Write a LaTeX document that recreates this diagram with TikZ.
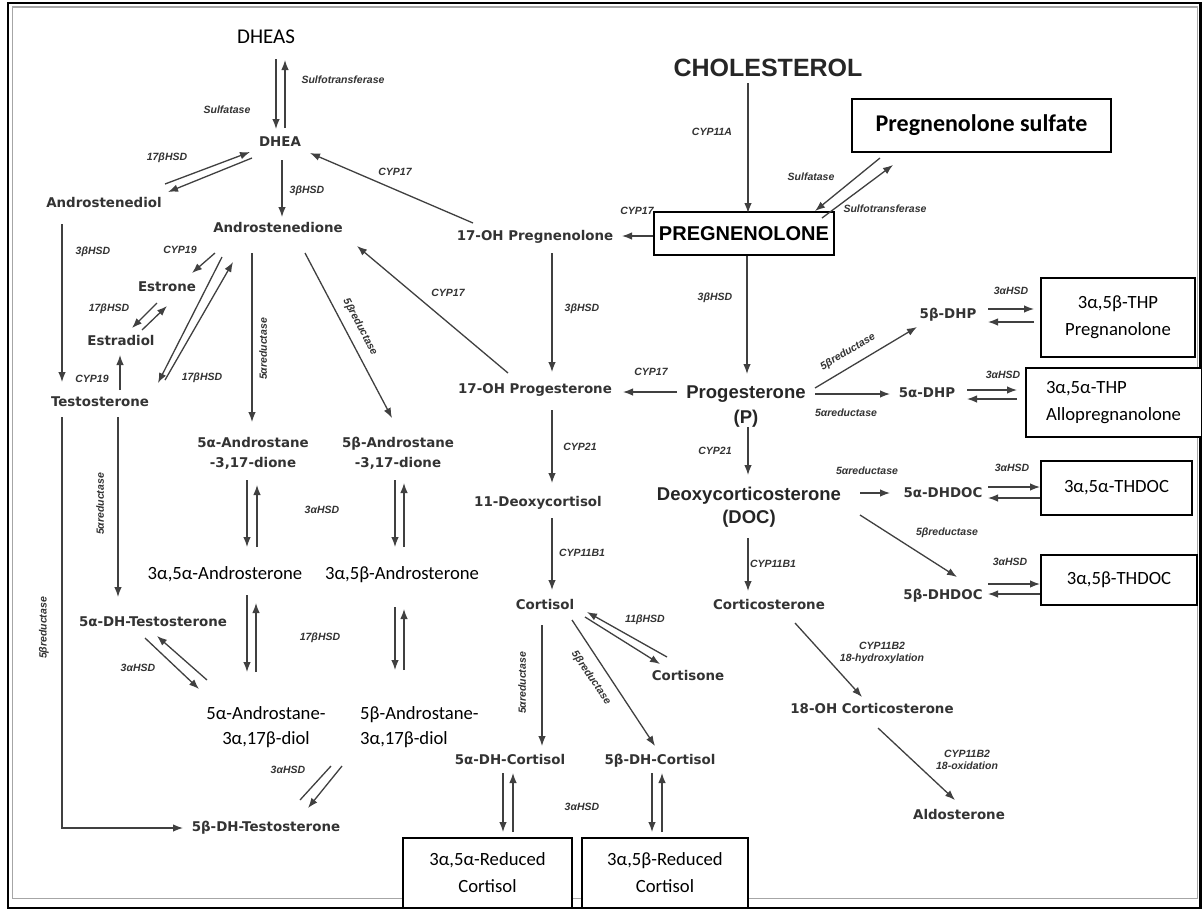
\documentclass[tikz,border=0pt]{standalone}
\usepackage{fontspec}
\usetikzlibrary{arrows.meta,calc}
\newfontfamily\dejavu{DejaVu Sans}
\newfontfamily\lib{Liberation Sans}
\newfontfamily\carl{Carlito}
\tikzset{
  cmp/.style={font=\dejavu\bfseries\fontsize{13.4}{20}\selectfont, text=black!80, inner sep=0pt, align=center},
  cmp1/.style={cmp, text height=9.8pt, text depth=0pt},
  big/.style={font=\lib\bfseries\fontsize{18.5}{25}\selectfont, text=black!85, inner sep=0pt, align=center},
  enz/.style={font=\lib\bfseries\itshape\fontsize{10.5}{12.5}\selectfont, text=black!80, inner sep=0pt, align=center},
  cal/.style={font=\carl\fontsize{18.67}{25}\selectfont, inner sep=0pt, align=center},
  cal1/.style={cal, text height=12pt, text depth=0pt},
  box/.style={draw, fill=white, line width=1.3pt, inner sep=0pt, align=center, font=\carl\fontsize{18.67}{27}\selectfont},
  arr/.style={draw=black!75, line width=1.3pt, -{Latex[length=10pt,width=7.5pt]}},
  ln/.style={draw=black!75, line width=1.3pt},
}
\begin{document}
\begin{tikzpicture}[x=1pt,y=-1pt]
\useasboundingbox (0,0) rectangle (1202,911);
\fill[white] (0,0) rectangle (1202,911);
\draw[black, line width=2.2pt] (8,3) rectangle (1200.5,908);
\draw[gray!70, line width=1.3pt] (12.5,7) rectangle (1197.5,898.5);

% ---------- compounds ----------
\node[cal1, font=\carl\fontsize{21}{25}\selectfont] (dheas) at (266,37) {DHEAS};
\node[cmp1] (dhea) at (280,142) {DHEA};
\node[cmp1] (adiol) at (104,203) {Androstenediol};
\node[cmp1] (adione) at (278,228) {Androstenedione};
\node[cmp1] (estrone) at (167,287) {Estrone};
\node[cmp1] (estradiol) at (121,341) {Estradiol};
\node[cmp1] (testo) at (100,402) {Testosterone};
\node[cmp] (a5dione) at (253,453) {5α-Androstane\\-3,17-dione};
\node[cmp] (b5dione) at (398,453) {5β-Androstane\\-3,17-dione};
\node[cal1] (a5ster) at (225,573) {3α,5α-Androsterone};
\node[cal1] (b5ster) at (402,573) {3α,5β-Androsterone};
\node[cmp1] (dht) at (153,622) {5α-DH-Testosterone};
\node[cal] (a5diol) at (266,727) {5α-Androstane-\\3α,17β-diol};
\node[cal, align=left, anchor=west] (b5diol) at (360,727) {5β-Androstane-\\3α,17β-diol};
\node[cmp1] (b5dht) at (266,827) {5β-DH-Testosterone};

\node[font=\lib\bfseries\fontsize{25}{30}\selectfont, text=black!85, inner sep=0pt, text height=18pt, text depth=0pt] (chol) at (768,67) {CHOLESTEROL};
\node[draw, fill=white, line width=1.8pt, minimum width=180pt, minimum height=43pt, inner sep=0pt, font=\lib\bfseries\fontsize{20}{24}\selectfont] (preg) at (744,233.5) {PREGNENOLONE};
\node[draw, fill=white, line width=1.8pt, minimum width=259pt, minimum height=53pt, inner sep=0pt, font=\carl\bfseries\fontsize{24}{28}\selectfont] (pregs) at (981.5,125.5) {Pregnenolone sulfate};

\node[cmp1] (opreg) at (535,236) {17-OH Pregnenolone};
\node[cmp1] (oprog) at (535,389) {17-OH Progesterone};
\node[big] (prog) at (746,406.5) {Progesterone\\(P)};
\node[cmp1] (deoxyc) at (538,502) {11-Deoxycortisol};
\node[big, font=\lib\bfseries\fontsize{18.5}{23}\selectfont] (doc) at (749,507.5) {Deoxycorticosterone\\(DOC)};
\node[cmp1] (cortisol) at (545,605) {Cortisol};
\node[cmp1] (corticost) at (769,605) {Corticosterone};
\node[cmp1] (cortisone) at (688,676) {Cortisone};
\node[cmp1] (a5cort) at (510,760) {5α-DH-Cortisol};
\node[cmp1] (b5cort) at (660,760) {5β-DH-Cortisol};
\node[box, minimum width=169pt, minimum height=70pt] (a5rc) at (487.5,873) {3α,5α-Reduced\\Cortisol};
\node[box, minimum width=166pt, minimum height=70pt] (b5rc) at (665,873) {3α,5β-Reduced\\Cortisol};
\node[cmp1] (ohcort) at (872,709) {18-OH Corticosterone};
\node[cmp1] (aldo) at (959,815) {Aldosterone};
\node[cmp1] (b5dhp) at (948,314) {5β-DHP};
\node[cmp1] (a5dhp) at (927,393) {5α-DHP};
\node[box, minimum width=154pt, minimum height=79pt] (thp) at (1118,317.5) {3α,5β-THP\\Pregnanolone};
\node[box, minimum height=69pt, text width=136pt, inner xsep=20pt, align=left] (allo) at (1114,402.5) {3α,5α-THP\\Allopregnanolone};
\node[cmp1] (a5dhdoc) at (943,493) {5α-DHDOC};
\node[cmp1] (b5dhdoc) at (943,595) {5β-DHDOC};
\node[box, minimum width=151pt, minimum height=54pt] (athdoc) at (1116.5,488) {3α,5α-THDOC};
\node[box, minimum width=156pt, minimum height=50pt] (bthdoc) at (1119,580) {3α,5β-THDOC};

% ---------- enzyme labels ----------
\node[enz] (e1) at (343,80) {Sulfotransferase};
\node[enz] (e2) at (227,110) {Sulfatase};
\node[enz] (e3) at (167,158) {17βHSD};
\node[enz] (e4) at (307,191) {3βHSD};
\node[enz] (e5) at (395,172) {CYP17};
\node[enz] (e6) at (93,252) {3βHSD};
\node[enz] (e7) at (180,250) {CYP19};
\node[enz] (e8) at (109,309) {17βHSD};
\node[enz] (e9) at (92,379) {CYP19};
\node[enz] (e10) at (202,378) {17βHSD};
\node[enz, rotate=90] (e11) at (263,349) {5αreductase};
\node[enz, rotate=-62] (e12) at (360,327) {5βreductase};
\node[enz] (e13) at (322,510) {3αHSD};
\node[enz, rotate=90] (e14) at (100,504) {5αreductase};
\node[enz] (e15) at (320,638) {17βHSD};
\node[enz] (e16) at (138,668) {3αHSD};
\node[enz, rotate=90] (e17) at (44,628) {5βreductase};
\node[enz] (e18) at (288,770) {3αHSD};
\node[enz] (e19) at (712,132) {CYP11A};
\node[enz] (e20) at (811,177) {Sulfatase};
\node[enz] (e21) at (885,209) {Sulfotransferase};
\node[enz] (e22) at (637,211) {CYP17};
\node[enz] (e23) at (582,309) {3βHSD};
\node[enz] (e24) at (715,298) {3βHSD};
\node[enz] (e25) at (651,372) {CYP17};
\node[enz] (e26) at (448,293) {CYP17};
\node[enz] (e27) at (580,447) {CYP21};
\node[enz] (e28) at (715,451) {CYP21};
\node[enz] (e29) at (582,553) {CYP11B1};
\node[enz] (e30) at (773,564) {CYP11B1};
\node[enz] (e31) at (645,620) {11βHSD};
\node[enz, rotate=90] (e32) at (522,683) {5αreductase};
\node[enz, rotate=-56] (e33) at (591,678) {5βreductase};
\node[enz] (e34) at (582,807) {3αHSD};
\node[enz] (e35) at (882,653) {CYP11B2\\18-hydroxylation};
\node[enz] (e36) at (967,760) {CYP11B2\\18-oxidation};
\node[enz, rotate=31] (e37) at (848,352) {5βreductase};
\node[enz] (e38) at (846,413) {5αreductase};
\node[enz] (e39) at (1011,291) {3αHSD};
\node[enz] (e40) at (1003,375) {3αHSD};
\node[enz] (e41) at (867,471) {5αreductase};
\node[enz] (e42) at (1012,468) {3αHSD};
\node[enz] (e43) at (947,533) {5βreductase};
\node[enz] (e44) at (1010,562) {3αHSD};

% ---------- connectors ----------
\draw[arr] ($(dheas)+(10,22)$) -- ($(dhea)+(-4,-13)$);
\draw[arr] ($(dhea)+(5,-14)$) -- ($(dheas)+(19,23)$);
\draw[arr] ($(adiol)+(61,-19)$) -- ($(dhea)+(-30,10)$);
\draw[arr] ($(dhea)+(-28,16)$) -- ($(adiol)+(64,-11)$);
\draw[arr] ($(dhea)+(2,18)$) -- ($(adione)+(4,-11)$);
\draw[arr] ($(opreg)+(-62,-13)$) -- ($(dhea)+(30,11)$);
\draw[arr] ($(chol)+(-20,16)$) -- ($(preg)+(4,-20.5)$);
\draw[arr] ($(pregs)+(-101.5,32.5)$) -- ($(preg)+(71,-22.5)$);
\draw[arr] ($(preg)+(78,-15.5)$) -- ($(pregs)+(-88.5,39.5)$);
\draw[arr] ($(preg)+(-91,2.5)$) -- ($(opreg)+(87,0)$);
\draw[arr] ($(preg)+(3,22.5)$) -- ($(prog)+(1,-32.5)$);
\draw[arr] ($(opreg)+(17,17)$) -- ($(oprog)+(17,-17)$);
\draw[arr] ($(prog)+(-69,-14.5)$) -- ($(oprog)+(88,3)$);
\draw[arr] ($(oprog)+(-27,-16)$) -- ($(adione)+(79,18)$);
\draw[arr] ($(oprog)+(17,21)$) -- ($(deoxyc)+(14,-19)$);
\draw[arr] ($(deoxyc)+(14,16)$) -- ($(cortisol)+(7,-15)$);
\draw[arr] ($(prog)+(2,20.5)$) -- ($(doc)+(-1,-32.5)$);
\draw[arr] ($(doc)+(-1,30.5)$) -- ($(corticost)+(-21,-14)$);
\draw[arr] ($(corticost)+(26,18)$) -- ($(ohcort)+(-10,-12)$);
\draw[arr] ($(ohcort)+(6,19)$) -- ($(aldo)+(-4,-15)$);
\draw[arr] ($(cortisol)+(-3,20)$) -- ($(a5cort)+(32,-14)$);
\draw[arr] ($(cortisol)+(27,15)$) -- ($(b5cort)+(-5,-14)$);
\draw[arr] ($(cortisol)+(40,12)$) -- ($(cortisone)+(-28,-12)$);
\draw[arr] ($(cortisone)+(-21,-19)$) -- ($(cortisol)+(42,7)$);
\draw[arr] ($(a5cort)+(-7,13)$) -- ($(a5rc)+(15.5,-41)$);
\draw[arr] ($(a5rc)+(25.5,-41)$) -- ($(a5cort)+(3,13)$);
\draw[arr] ($(b5cort)+(-8,13)$) -- ($(b5rc)+(-13,-41)$);
\draw[arr] ($(b5rc)+(-3,-41)$) -- ($(b5cort)+(2,13)$);
\draw[arr] ($(prog)+(69,-18.5)$) -- ($(b5dhp)+(-31,13)$);
\draw[arr] ($(prog)+(69,-12.5)$) -- ($(a5dhp)+(-37,1)$);
\draw[arr] ($(b5dhp)+(40,-5)$) -- ($(thp)+(-84,-8.5)$);
\draw[arr] ($(thp)+(-84,4.5)$) -- ($(b5dhp)+(40,8)$);
\draw[arr] ($(a5dhp)+(40,-3)$) -- ($(allo)+(-97,-12.5)$);
\draw[arr] ($(allo)+(-97,-3.5)$) -- ($(a5dhp)+(40,6)$);
\draw[arr] ($(doc)+(111,-14.5)$) -- ($(a5dhdoc)+(-53,0)$);
\draw[arr] ($(a5dhdoc)+(45,-6)$) -- ($(athdoc)+(-76.5,-1)$);
\draw[arr] ($(athdoc)+(-76.5,10)$) -- ($(a5dhdoc)+(45,5)$);
\draw[arr] ($(doc)+(111,7.5)$) -- ($(b5dhdoc)+(14,-18)$);
\draw[arr] ($(b5dhdoc)+(45,-11)$) -- ($(bthdoc)+(-79,4)$);
\draw[arr] ($(bthdoc)+(-79,14)$) -- ($(b5dhdoc)+(45,-1)$);
\draw[arr] ($(adione)+(-63,25)$) -- ($(estrone)+(25,-14)$);
\draw[arr] ($(estrone)+(-10,16)$) -- ($(estradiol)+(11,-13)$);
\draw[arr] ($(estradiol)+(21,-11)$) -- ($(estrone)+(0,19)$);
\draw[arr] ($(testo)+(20,-12)$) -- ($(estradiol)+(-1,14)$);
\draw[arr] ($(adiol)+(-42,21)$) -- ($(testo)+(-38,-20)$);
\draw[arr] ($(testo)+(65,-22)$) -- ($(adione)+(-45,34)$);
\draw[arr] ($(adione)+(-56,29)$) -- ($(testo)+(58,-19)$);
\draw[arr] ($(adione)+(-26,25)$) -- ($(a5dione)+(-1,-31)$);
\draw[arr] ($(adione)+(27,25)$) -- ($(b5dione)+(-6,-35)$);
\draw[arr] ($(a5dione)+(-6,27)$) -- ($(a5ster)+(22,-26)$);
\draw[arr] ($(a5ster)+(32,-26)$) -- ($(a5dione)+(4,32)$);
\draw[arr] ($(b5dione)+(-3,27)$) -- ($(b5ster)+(-7,-26)$);
\draw[arr] ($(b5ster)+(2,-26)$) -- ($(b5dione)+(6,30)$);
\draw[arr] ($(a5ster)+(22,22)$) -- ($(a5diol)+(-19,-55)$);
\draw[arr] ($(a5diol)+(-10,-55)$) -- ($(a5ster)+(31,30)$);
\draw[arr] ($(b5ster)+(-7,34)$) -- ($(b5diol.west)+(35,-57)$);
\draw[arr] ($(b5diol.west)+(44,-57)$) -- ($(b5ster)+(2,36)$);
\draw[arr] ($(testo)+(18,15)$) -- ($(dht)+(-35,-25)$);
\draw[arr] ($(testo)+(-38,15)$) |- ($(b5dht)+(-83,1)$);
\draw[arr] ($(dht)+(-8,16)$) -- ($(a5diol)+(-67,-38)$);
\draw[arr] ($(a5diol)+(-59,-47)$) -- ($(dht)+(4,14)$);
\draw[arr] ($(b5diol.west)+(-18,39)$) -- ($(b5dht)+(42,-19)$);
\draw[ln] ($(b5dht)+(34,-27)$) -- ($(b5diol.west)+(-29,39)$);
\end{tikzpicture}
\end{document}
